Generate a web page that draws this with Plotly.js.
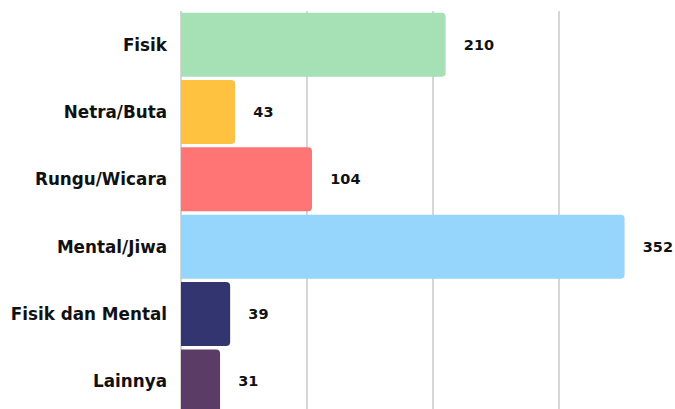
<!DOCTYPE html>
<html><head><meta charset="utf-8">
<script src="https://cdn.plot.ly/plotly-3.0.1.min.js"></script>
<style>html,body{margin:0;padding:0;overflow:hidden;background:#fff}#chart{width:675px;height:409px}</style>
</head><body><div id="chart"></div>
<script>
const categories = ["Fisik", "Netra/Buta", "Rungu/Wicara", "Mental/Jiwa", "Fisik dan Mental", "Lainnya"];
const values = [210, 43, 104, 352, 39, 31];
const colors = ["#a6e0b5", "#ffc240", "#ff7575", "#97d6fc", "#32356f", "#5a3c66"];

const trace = {
  type: "bar",
  orientation: "h",
  y: categories,
  x: values,
  marker: {color: colors, line: {width: 0}},
  text: values.map(v => "\u00a0\u00a0\u00a0" + v),
  textposition: "outside",
  textfont: {family: "'DejaVu Sans', sans-serif", size: 14.5, color: "#111", weight: 700},
  cliponaxis: false,
  hoverinfo: "none"
};

const layout = {
  width: 675, height: 409,
  margin: {l: 181, r: 0, t: 11, b: 0},
  paper_bgcolor: "#fff", plot_bgcolor: "#fff",
  bargap: 0.05,
  barcornerradius: 4,
  showlegend: false,
  xaxis: {
    range: [0, 392], tickvals: [0, 100, 200, 300], showticklabels: false,
    showgrid: true, gridcolor: "#d6d6d6", gridwidth: 1.5,
    zeroline: true, zerolinecolor: "#d6d6d6", zerolinewidth: 1.5, fixedrange: true
  },
  yaxis: {
    type: "category", range: [5.41, -0.5], autorange: false,
    showgrid: false, zeroline: false, ticks: "", ticklabelstandoff: 13,
    tickfont: {family: "'DejaVu Sans', sans-serif", size: 16.8, color: "#111", weight: 700},
    fixedrange: true
  }
};
Plotly.newPlot("chart", [trace], layout, {displayModeBar: false, staticPlot: true});
</script></body></html>
